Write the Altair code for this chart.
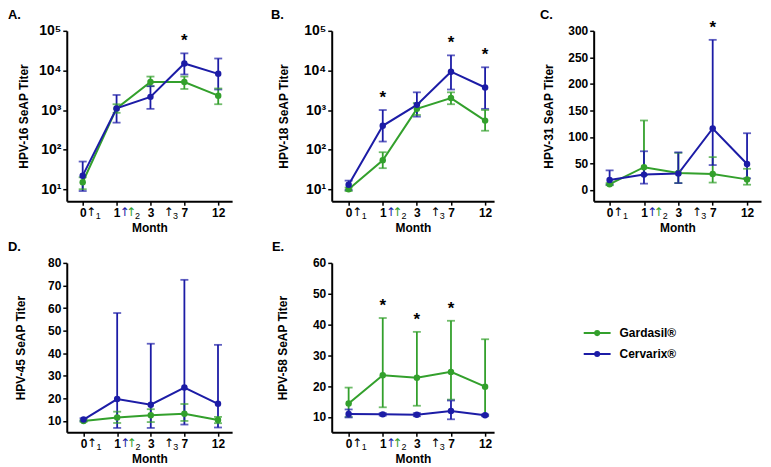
import altair as alt
import pandas as pd

FONT = "Liberation Sans"
GREEN = "#33a02c"
BLUE = "#1c1ca6"
series = ["Gardasil®", "Cervarix®"]
months = ["0", "1", "3", "7", "12"]

# HPV-16 (log)
g16 = [15, 1100, 5100, 5100, 2300]
g16_lo = [10, 850, 4000, 3400, 1400]
g16_hi = [20, 1400, 7000, 7000, 3500]
c16 = [22, 1100, 2150, 15000, 8200]
c16_lo = [9, 480, 1070, 7900, 3300]
c16_hi = [50, 2400, 4000, 27000, 20000]
stars16 = [3]

# HPV-18 (log)
g18 = [10, 54, 1070, 2000, 540]
g18_lo = [9, 34, 750, 1400, 300]
g18_hi = [11, 86, 1500, 2800, 1000]
c18 = [13, 400, 1350, 9300, 3700]
c18_lo = [9.6, 160, 680, 3300, 1070]
c18_hi = [16.5, 1000, 2800, 24000, 12000]
stars18 = [1, 3, 4]

# HPV-31
g31 = [11, 43, 32, 30, 20]
g31_lo = [9, 28, 13, 14, 10]
g31_hi = [13, 131, 70, 62, 40]
c31 = [19, 29, 31, 116, 49]
c31_lo = [10, 12, 13, 47, 22]
c31_hi = [37, 73, 71, 283, 107]
stars31 = [3]

# HPV-45
g45 = [10, 11.5, 12.5, 13.2, 10.4]
g45_lo = [9.6, 9.1, 9.5, 10, 9]
g45_hi = [10.4, 14.1, 15.2, 17.5, 11.8]
c45 = [10.6, 19.7, 17.2, 24.8, 17.6]
c45_lo = [10, 6.9, 6.9, 8.4, 7.1]
c45_hi = [11.2, 57.8, 44.2, 72.5, 43.7]
stars45 = []

# HPV-58
g58 = [14.3, 23.5, 22.7, 24.6, 19.8]
g58_lo = [10, 13.1, 13.6, 15.6, 10.5]
g58_hi = [19.5, 42.1, 37.6, 41.2, 35.2]
c58 = [10.9, 10.8, 10.7, 11.9, 10.5]
c58_lo = [9.8, 10.4, 10.2, 9.2, 10.2]
c58_hi = [12.4, 11.2, 11.2, 15.3, 10.8]
stars58 = [1, 2, 3]

# dose arrows under the x axis (position in month-index units)
arrow_pos = [0.26, 1.25, 1.44, 2.55]
arrow_col = ["black", BLUE, GREEN, "black"]
sub_pos = [0.46, 1.62, 2.74]
sub_txt = ["1", "2", "3"]

LEG_PATH = "M-1,0L1,0M-0.15,0A0.15,0.15,0,1,0,0.15,0A0.15,0.15,0,1,0,-0.15,0Z"

color_scale = alt.Scale(domain=series, range=[GREEN, BLUE])
color_leg = alt.Color(
    "series:N", scale=color_scale,
    legend=alt.Legend(
        title=None, orient="none", legendX=518, legendY=289,
        symbolType=LEG_PATH, symbolSize=729, symbolStrokeWidth=2, symbolOpacity=1,
        labelFont=FONT, labelFontWeight="bold", labelFontSize=12,
        labelColor="black", labelOffset=8, rowPadding=-14,
    ),
)

LOG_EXPR = ("datum.value == 10 ? '10¹' : datum.value == 100 ? '10²' : "
            "datum.value == 1000 ? '10³' : datum.value == 10000 ? '10⁴' : '10⁵'")
X_EXPR = "[" + ",".join("'%s'" % m for m in months) + "][datum.value]"


def panel(letter, lx, ytitle, g, glo, ghi, c, clo, chi, stars, scale, yvals,
          yexpr, xdom, W, H, tpad, lfs):
    rows = []
    for s, v, lo, hi in [(series[0], g, glo, ghi), (series[1], c, clo, chi)]:
        for i in range(5):
            rows.append(dict(idx=i, series=s, value=v[i], lo=lo[i], hi=hi[i]))
    df = pd.DataFrame(rows)
    X = alt.X("idx:Q", scale=alt.Scale(domain=xdom, nice=False, zero=False),
              axis=alt.Axis(values=[0, 1, 2, 3, 4], labelExpr=X_EXPR, title="Month",
                            grid=False, tickSize=4, labelPadding=2, titlePadding=4,
                            labelFontSize=12, labelFlush=False, labelOverlap=False))
    axis_kw = dict(values=yvals, title=ytitle, grid=False, tickSize=4,
                   labelPadding=2, titlePadding=tpad, labelFontSize=lfs,
                   labelFlush=False, labelOverlap=False)
    if yexpr:
        axis_kw["labelExpr"] = yexpr
    yaxis = alt.Axis(**axis_kw)

    def Y(f):
        return alt.Y(f, scale=scale, axis=yaxis)

    base = alt.Chart(df)
    rules = base.mark_rule(strokeWidth=1.8).encode(x=X, y=Y("lo:Q"), y2="hi:Q", color=color_leg)
    cap_lo = base.mark_tick(orient="horizontal", size=8, thickness=1.8).encode(x=X, y=Y("lo:Q"), color=color_leg)
    cap_hi = base.mark_tick(orient="horizontal", size=8, thickness=1.8).encode(x=X, y=Y("hi:Q"), color=color_leg)
    line = base.mark_line(strokeWidth=2).encode(x=X, y=Y("value:Q"), color=color_leg)
    pts = base.mark_circle(size=42, opacity=1).encode(x=X, y=Y("value:Q"), color=color_leg)

    layers = [rules, cap_lo, cap_hi, line, pts]

    if stars:
        sdf = pd.DataFrame({"idx": stars,
                            "hi": [max(ghi[i], chi[i]) for i in stars],
                            "t": ["*"] * len(stars)})
        layers.append(alt.Chart(sdf).mark_text(fontSize=17, fontWeight="bold", font=FONT,
                                               baseline="middle", dy=-12, color="black")
                      .encode(x=X, y=Y("hi:Q"), text="t:N"))

    adf = pd.DataFrame({"idx": arrow_pos, "col": arrow_col, "t": ["↑"] * len(arrow_pos)})
    layers.append(alt.Chart(adf).mark_text(fontSize=12, font="DejaVu Sans", baseline="middle")
                  .encode(x=X, y=alt.value(H + 11), text="t:N",
                          color=alt.Color("col:N", scale=None)))
    sub_df = pd.DataFrame({"idx": sub_pos, "t": sub_txt})
    layers.append(alt.Chart(sub_df).mark_text(fontSize=9, font=FONT, baseline="middle",
                                              color="black")
                  .encode(x=X, y=alt.value(H + 15), text="t:N"))

    ldf = pd.DataFrame({"t": [letter]})
    layers.append(alt.Chart(ldf).mark_text(fontSize=13, fontWeight="bold", font=FONT,
                                           align="left", baseline="alphabetic", color="black")
                  .encode(x=alt.value(lx), y=alt.value(-12), text="t:N"))

    return alt.layer(*layers).properties(width=W, height=H)


log_scale = alt.Scale(type="log", domain=[5, 100000], nice=False)
logvals = [10, 100, 1000, 10000, 100000]

A = panel("A.", -59, "HPV-16 SeAP Titer", g16, g16_lo, g16_hi, c16, c16_lo, c16_hi, stars16,
          log_scale, logvals, LOG_EXPR, [-0.47, 4.41], 166, 171, 8, 14)
B = panel("B.", -61, "HPV-18 SeAP Titer", g18, g18_lo, g18_hi, c18, c18_lo, c18_hi, stars18,
          log_scale, logvals, LOG_EXPR, [-0.496, 4.263], 163, 171, 13, 14)
C = panel("C.", -54, "HPV-31 SeAP Titer", g31, g31_lo, g31_hi, c31, c31_lo, c31_hi, stars31,
          alt.Scale(domain=[-21, 300], nice=False, zero=False), list(range(0, 301, 50)), None,
          [-0.464, 4.406], 168, 171, 12, 12)
D = panel("D.", -59, "HPV-45 SeAP Titer", g45, g45_lo, g45_hi, c45, c45_lo, c45_hi, stars45,
          alt.Scale(domain=[5, 80], nice=False, zero=False), list(range(10, 81, 10)), None,
          [-0.5, 4.42], 166, 170, 20, 12)
E = panel("E.", -60, "HPV-58 SeAP Titer", g58, g58_lo, g58_hi, c58, c58_lo, c58_hi, stars58,
          alt.Scale(domain=[5, 60], nice=False, zero=False), list(range(10, 61, 10)), None,
          [-0.496, 4.263], 163, 170, 23, 12)

chart = alt.concat(A, B, C, D, E, columns=3, spacing={"row": 62, "column": 100},
                   bounds="flush").properties(
    padding={"left": 0, "top": 0, "right": 2, "bottom": 2}
).configure_view(stroke=None).configure_axis(
    domainColor="black", domainWidth=2, tickColor="black", tickWidth=1.5,
    labelFont=FONT, labelFontWeight="bold", labelColor="black",
    titleFont=FONT, titleFontWeight="bold", titleFontSize=12, titleColor="black",
)

chart.save("out.html", embed_options={"renderer": "svg", "actions": False})
